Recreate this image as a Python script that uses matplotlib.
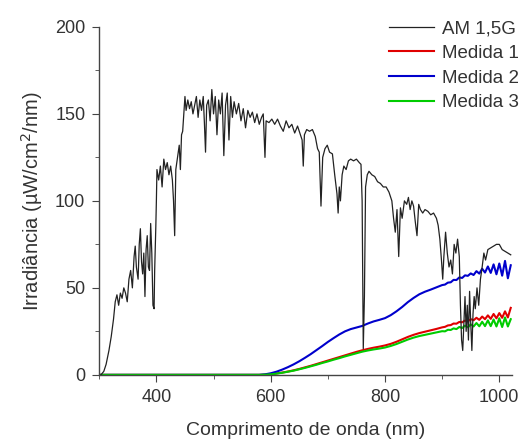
import matplotlib
matplotlib.use("Agg")
import matplotlib.pyplot as plt
from matplotlib.ticker import MultipleLocator

plt.rcParams['font.family'] = ['Liberation Sans', 'DejaVu Sans']

# AM 1,5G reference spectrum
am_wl = [303, 308, 312, 317, 321, 325, 328, 331, 334, 337, 340, 343, 346, 349, 352, 355,
         358, 361, 363, 365, 368, 370, 372, 374, 376, 378, 380, 382, 384, 386, 388, 390,
         392, 394, 396, 397, 399, 400, 401, 404, 407, 410, 413, 416, 419, 422, 425, 428,
         430, 432, 434, 437, 440, 442, 444, 446, 448, 450, 452, 455, 458, 461, 464, 467,
         470, 473, 476, 479, 482, 484, 486, 488, 491, 494, 497, 500, 503, 506, 509, 512,
         515, 518, 521, 524, 527, 530, 533, 536, 540, 544, 548, 552, 556, 560, 564, 568,
         572, 576, 580, 584, 587, 590, 592, 597, 602, 607, 612, 617, 622, 627, 632, 637,
         642, 647, 652, 655, 657, 659, 663, 668, 673, 678, 682, 685, 688, 691, 695, 699,
         703, 708, 712, 716, 718, 720, 722, 725, 728, 732, 736, 740, 745, 750, 755, 758,
         760, 762, 764, 766, 769, 772, 777, 782, 787, 792, 797, 802, 807, 812, 815, 818,
         821, 824, 827, 830, 834, 838, 841, 844, 847, 850, 853, 856, 859, 862, 866, 870,
         875, 880, 885, 890, 893, 896, 899, 901, 903, 906, 909, 912, 915, 918, 921, 924,
         927, 930, 932, 934, 936, 938, 940, 942, 944, 946, 948, 950, 952, 954, 956, 958,
         961, 964, 967, 970, 973, 976, 980, 985, 990, 995, 1000, 1005, 1010, 1015, 1020]
am_val = [0, 2, 6, 14, 22, 32, 42, 46, 40, 47, 44, 50, 47, 42, 55, 60,
          50, 68, 74, 62, 55, 75, 84, 65, 58, 70, 45, 72, 80, 62, 60, 87,
          70, 40, 38, 60, 85, 100, 118, 112, 120, 108, 124, 118, 122, 115, 120, 112,
          100, 80, 118, 125, 132, 118, 138, 140, 150, 160, 152, 158, 153, 157, 150, 155,
          160, 148, 158, 152, 160, 145, 128, 155, 158, 146, 164, 150, 160, 138, 158, 150,
          162, 126, 155, 162, 135, 160, 148, 157, 150, 156, 146, 153, 142, 152, 148, 151,
          145, 150, 144, 148, 150, 125, 146, 145, 147, 144, 147, 143, 140, 146, 142, 144,
          139, 143, 138, 135, 120, 138, 141, 140, 141, 137, 130, 128, 97, 125, 130, 132,
          128, 127, 115, 104, 93, 108, 100, 115, 120, 118, 123, 124, 123, 124, 122, 121,
          100, 15, 45, 108, 115, 117, 115, 114, 111, 110, 108, 108, 105, 100, 90, 82,
          95, 68, 96, 90, 100, 98, 102, 95, 100, 97, 88, 80, 98, 95, 93, 95,
          94, 92, 93, 90, 86, 78, 65, 55, 68, 82, 70, 62, 66, 58, 75, 70,
          78, 68, 40, 20, 14, 30, 45, 25, 40, 20, 48, 30, 14, 35, 45, 38,
          50, 40, 55, 62, 70, 66, 72, 73, 74, 75, 75, 72, 71, 70, 69]

# measured spectra
meas_wl = [300, 580, 590, 600, 610, 620, 630, 640, 650, 660, 670, 680, 690, 700, 710, 720,
           730, 740, 750, 760, 770, 780, 790, 800, 810, 820, 830, 840, 850, 860, 870, 880,
           890, 900, 905, 910, 915, 920, 925, 930, 935, 940, 945, 950, 955, 960, 965, 970,
           975, 980, 985, 990, 995, 1000, 1005, 1010, 1015, 1020]
medida1 = [0, 0, 0.1, 0.4, 0.8, 1.3, 1.9, 2.6, 3.4, 4.3, 5.2, 6.2, 7.2, 8.2, 9.2, 10.2,
           11.2, 12.2, 13.2, 14.1, 14.9, 15.6, 16.2, 16.9, 17.8, 19.0, 20.4, 21.8, 23.0, 24.0, 24.8, 25.6,
           26.4, 27.3, 27.6, 28.4, 28.6, 29.5, 29.4, 30.4, 30.2, 31.2, 30.8, 32.0, 31.4, 32.8, 31.6, 33.5,
           32.0, 34.2, 32.2, 35.0, 32.5, 35.5, 32.8, 36.5, 33.0, 38.5]
medida2 = [0, 0, 0.3, 0.9, 1.8, 3.0, 4.4, 6.0, 7.8, 9.8, 11.9, 14.2, 16.5, 18.9, 21.1, 23.2,
           25.0, 26.3, 27.2, 28.1, 29.5, 30.7, 31.6, 32.6, 34.3, 36.5, 39.0, 41.8, 44.2, 46.3, 47.8, 49.0,
           50.3, 51.6, 51.9, 53.0, 53.2, 54.6, 54.5, 56.0, 55.7, 57.2, 56.9, 58.3, 57.4, 59.6, 58.2, 61.0,
           58.8, 62.3, 58.6, 63.5, 57.8, 64.0, 57.0, 65.5, 55.5, 63.0]
medida3 = [0, 0, 0.1, 0.3, 0.7, 1.2, 1.8, 2.4, 3.2, 4.0, 4.9, 5.8, 6.8, 7.7, 8.7, 9.6,
           10.6, 11.5, 12.4, 13.3, 14.0, 14.6, 15.1, 15.7, 16.6, 17.7, 19.0, 20.3, 21.4, 22.3, 23.0, 23.7,
           24.4, 25.1, 25.0, 25.9, 25.8, 26.7, 26.3, 27.5, 26.9, 28.3, 27.3, 29.0, 27.8, 29.8, 27.9, 30.5,
           28.0, 31.3, 28.0, 31.8, 27.8, 32.5, 27.5, 33.0, 27.8, 32.0]

fig = plt.figure(figsize=(5.25, 4.41), dpi=100)
ax = fig.add_axes([0.189, 0.150, 0.786, 0.789])

ax.plot(am_wl, am_val, color='#222222', lw=0.9, label='AM 1,5G', zorder=3)
ax.plot(meas_wl, medida1, color='#e00000', lw=1.5, label='Medida 1', zorder=2)
ax.plot(meas_wl, medida2, color='#0000cc', lw=1.5, label='Medida 2', zorder=2)
ax.plot(meas_wl, medida3, color='#00cc00', lw=1.5, label='Medida 3', zorder=2)

ax.set_xlim(300, 1022)
ax.set_ylim(0, 200)
ax.xaxis.set_major_locator(MultipleLocator(200))
ax.xaxis.set_minor_locator(MultipleLocator(100))
ax.yaxis.set_major_locator(MultipleLocator(50))
ax.yaxis.set_minor_locator(MultipleLocator(25))
ax.set_xticks([400, 600, 800, 1000])

for s in ['top', 'right']:
    ax.spines[s].set_visible(False)
for s in ['left', 'bottom']:
    ax.spines[s].set_color('#444444')
    ax.spines[s].set_linewidth(1.0)

ax.tick_params(which='major', direction='out', length=5, color='#444444',
               labelsize=13, labelcolor='#333333', pad=5)
ax.tick_params(which='minor', direction='out', length=3, color='#444444')

ax.set_xlabel('Comprimento de onda (nm)', fontsize=14, color='#333333', labelpad=12)
ax.set_ylabel('Irradiância (µW/cm$^2$/nm)', fontsize=14.5, color='#333333', labelpad=7)

leg = ax.legend(loc='upper right', bbox_to_anchor=(1.013, 0.984), bbox_transform=fig.transFigure,
                frameon=False, fontsize=13.5, handlelength=2.4, labelspacing=0.4,
                handletextpad=0.4, borderaxespad=0.3)
for t in leg.get_texts():
    t.set_color('#333333')

fig.savefig('out.png', dpi=100)
